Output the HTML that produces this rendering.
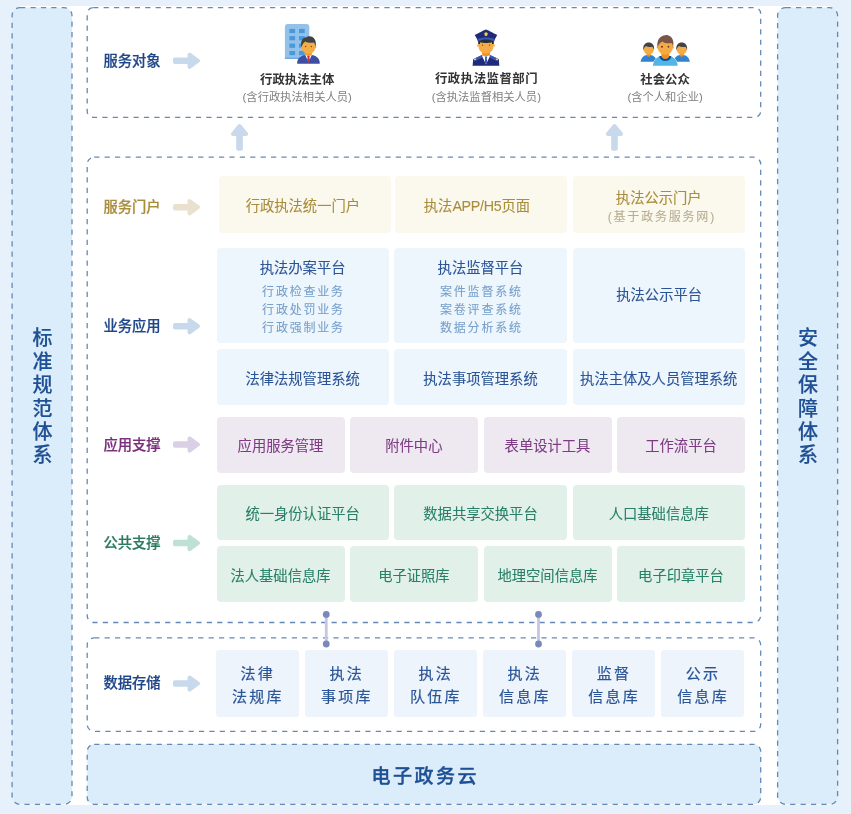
<!DOCTYPE html><html lang="zh-CN"><head><meta charset="utf-8"><title>行政执法平台总体架构</title><style>
*{margin:0;padding:0;box-sizing:border-box;}
html,body{width:851px;height:814px;overflow:hidden;}
body{background:#e7f1fb;font-family:"Liberation Sans", "Noto Sans CJK SC", sans-serif;position:relative;}
#stage{position:absolute;left:0;top:0;width:851px;height:814px;overflow:hidden;will-change:transform;}
#white{position:absolute;left:20px;top:6.3px;width:810px;height:798.3px;background:#fff;}
svg.ov{position:absolute;left:0;top:0;width:851px;height:814px;overflow:visible;}
.b{position:absolute;display:flex;flex-direction:column;align-items:center;justify-content:center;border-radius:4px;font-size:14.3px;line-height:20px;white-space:nowrap;text-align:center;}
.b>*{position:relative;top:1.9px;}
.b{-webkit-text-stroke:0.08px currentColor;}
.y{background:#fbf8ee;color:#a98d3c;}
.bl{background:#edf5fd;color:#2b5496;}
.p{background:#eee9f1;color:#7e3b83;}
.p>*{top:1.3px;}
.g{background:#e2f0ea;color:#288068;}
.d{background:#edf4fc;color:#2a5597;font-size:15px;line-height:23px;letter-spacing:2.2px;border-radius:3px;-webkit-text-stroke:0.2px currentColor;}
.d span{display:block;margin-right:-2.2px;left:-0.5px;top:1.4px;}
.d span+span{top:1.4px;}
.lab{position:absolute;left:103.4px;font-size:14.3px;line-height:20px;font-weight:500;-webkit-text-stroke:0.22px currentColor;white-space:nowrap;}
.sub{font-size:12px;line-height:18px;letter-spacing:1.8px;color:#76a0cb;margin-right:-1.8px;}
.bl .sub{top:4.2px;}
.t{position:absolute;white-space:nowrap;text-align:center;transform:translateX(-50%);}
.ti{font-size:12.4px;line-height:18px;font-weight:bold;color:#333;}
.st{font-size:11.3px;line-height:16px;color:#808080;}
.v{position:absolute;width:40px;text-align:center;font-size:20px;line-height:23.4px;font-weight:500;-webkit-text-stroke:0.15px currentColor;color:#1f4f94;}
.v span{display:block;}
</style></head><body><div id="stage">
<div id="white"></div>
<svg class="ov" viewBox="0 0 851 814"><rect x="12.1" y="7.55" width="59.9" height="796.8" rx="8" ry="8" stroke="#6589b4" stroke-width="1.3" stroke-dasharray="5.2 5.2" fill="#dbedfa"/><rect x="777.6" y="7.55" width="60" height="796.8" rx="8" ry="8" stroke="#6589b4" stroke-width="1.3" stroke-dasharray="5.2 5.2" fill="#dbedfa"/><rect x="87.2" y="7.55" width="673.5" height="109.75" rx="6" ry="6" stroke="#6589b4" stroke-width="1.3" stroke-dasharray="5.2 5.2" fill="none"/><rect x="87.2" y="157.2" width="673.5" height="465.3" rx="7" ry="7" stroke="#6589b4" stroke-width="1.3" stroke-dasharray="5.2 5.2" fill="none"/><rect x="87.2" y="637.9" width="673.5" height="93.5" rx="7" ry="7" stroke="#6589b4" stroke-width="1.3" stroke-dasharray="5.2 5.2" fill="none"/><rect x="87.2" y="744.3" width="673.5" height="60" rx="7" ry="7" stroke="#6589b4" stroke-width="1.3" stroke-dasharray="5.2 5.2" fill="#dbedfa"/><path d="M175,59.45 H189.5 V54.65 L198,60.75 L189.5,66.85 V62.05 H175 Z" fill="#c9d9ec" stroke="#c9d9ec" stroke-width="4" stroke-linejoin="round"/><path d="M175,205.89999999999998 H189.5 V201.1 L198,207.2 L189.5,213.29999999999998 V208.5 H175 Z" fill="#e9e1cd" stroke="#e9e1cd" stroke-width="4" stroke-linejoin="round"/><path d="M175,324.9 H189.5 V320.09999999999997 L198,326.2 L189.5,332.3 V327.5 H175 Z" fill="#c9d9ec" stroke="#c9d9ec" stroke-width="4" stroke-linejoin="round"/><path d="M175,443.2 H189.5 V438.4 L198,444.5 L189.5,450.6 V445.8 H175 Z" fill="#d9d0e6" stroke="#d9d0e6" stroke-width="4" stroke-linejoin="round"/><path d="M175,541.7 H189.5 V536.9 L198,543 L189.5,549.1 V544.3 H175 Z" fill="#bfe0d4" stroke="#bfe0d4" stroke-width="4" stroke-linejoin="round"/><path d="M175,682.2 H189.5 V677.4 L198,683.5 L189.5,689.6 V684.8 H175 Z" fill="#c9d9ec" stroke="#c9d9ec" stroke-width="4" stroke-linejoin="round"/><path d="M239.55,126 L246.15,134 H240.9 V148.8 H238.20000000000002 V134 H232.95000000000002 Z" fill="#c9d9ec" stroke="#c9d9ec" stroke-width="4" stroke-linejoin="round"/><path d="M614.5,126 L621.1,134 H615.85 V148.8 H613.15 V134 H607.9 Z" fill="#c9d9ec" stroke="#c9d9ec" stroke-width="4" stroke-linejoin="round"/><line x1="326.25" y1="614.4" x2="326.25" y2="644" stroke="#c5c6e2" stroke-width="2.8"/><circle cx="326.25" cy="614.4" r="3.4" fill="#7b88bb"/><circle cx="326.25" cy="644" r="3.4" fill="#7b88bb"/><line x1="538.5" y1="614.4" x2="538.5" y2="644" stroke="#c5c6e2" stroke-width="2.8"/><circle cx="538.5" cy="614.4" r="3.4" fill="#7b88bb"/><circle cx="538.5" cy="644" r="3.4" fill="#7b88bb"/></svg>
<div class="lab" style="top:50.5px;color:#1f4688">服务对象</div>
<div class="lab" style="top:196.6px;color:#a98d3c">服务门户</div>
<div class="lab" style="top:315.75px;color:#1f4688">业务应用</div>
<div class="lab" style="top:435px;color:#7a2e7c">应用支撑</div>
<div class="lab" style="top:532.5px;color:#2a7a5c">公共支撑</div>
<div class="lab" style="top:673px;color:#1f4688">数据存储</div>
<div class="b y" style="left:219.25px;top:175.75px;width:172.0px;height:56.75px;padding-left:0px;padding-right:4.8px;padding-top:0.5px;padding-bottom:0px"><span>行政执法统一门户</span></div>
<div class="b y" style="left:395px;top:175.75px;width:172px;height:56.75px;padding-left:0px;padding-right:8.2px;padding-top:0.5px;padding-bottom:0px"><span>执法<span style="letter-spacing:-0.3px">APP/H5</span>页面</span></div>
<div class="b y" style="left:572.5px;top:175.75px;width:172.5px;height:56.75px;padding-left:0px;padding-right:0px;padding-top:1.2px;padding-bottom:0px"><div style="top:2.5px">执法公示门户</div><div class="sub" style="color:#b8ae90;line-height:19px;left:2.2px;top:3px">(基于政务服务网)</div></div>
<div class="b bl" style="left:216.5px;top:247.5px;width:172.25px;height:95.0px"><div style="line-height:22px;top:-0.4px">执法办案平台</div><div class="sub">行政检查业务</div><div class="sub">行政处罚业务</div><div class="sub">行政强制业务</div></div>
<div class="b bl" style="left:394.25px;top:247.5px;width:172.5px;height:95.0px"><div style="line-height:22px;top:-0.4px">执法监督平台</div><div class="sub">案件监督系统</div><div class="sub">案卷评查系统</div><div class="sub">数据分析系统</div></div>
<div class="b bl" style="left:572.5px;top:247.5px;width:172.5px;height:95.0px;padding-left:0.8px;padding-right:0px;padding-top:0px;padding-bottom:3.8px"><span>执法公示平台</span></div>
<div class="b bl" style="left:216.5px;top:349.25px;width:172.25px;height:55.25px"><span>法律法规管理系统</span></div>
<div class="b bl" style="left:394.25px;top:349.25px;width:172.5px;height:55.25px"><span>执法事项管理系统</span></div>
<div class="b bl" style="left:572.5px;top:349.25px;width:172.5px;height:55.25px"><span>执法主体及人员管理系统</span></div>
<div class="b p" style="left:216.5px;top:417px;width:128.0px;height:55.5px"><span>应用服务管理</span></div>
<div class="b p" style="left:350px;top:417px;width:127.75px;height:55.5px"><span>附件中心</span></div>
<div class="b p" style="left:483.5px;top:417px;width:128.0px;height:55.5px"><span>表单设计工具</span></div>
<div class="b p" style="left:617px;top:417px;width:128px;height:55.5px"><span>工作流平台</span></div>
<div class="b g" style="left:216.5px;top:484.6px;width:172.25px;height:55.5px"><span>统一身份认证平台</span></div>
<div class="b g" style="left:394.25px;top:484.6px;width:172.5px;height:55.5px"><span>数据共享交换平台</span></div>
<div class="b g" style="left:572.5px;top:484.6px;width:172.5px;height:55.5px"><span>人口基础信息库</span></div>
<div class="b g" style="left:216.5px;top:546.2px;width:128.0px;height:55.6px"><span>法人基础信息库</span></div>
<div class="b g" style="left:350px;top:546.2px;width:127.75px;height:55.6px"><span>电子证照库</span></div>
<div class="b g" style="left:483.5px;top:546.2px;width:128.0px;height:55.6px"><span>地理空间信息库</span></div>
<div class="b g" style="left:617px;top:546.2px;width:128px;height:55.6px"><span>电子印章平台</span></div>
<div class="b d" style="left:215.5px;top:649.5px;width:83.4px;height:67.9px"><span>法律</span><span>法规库</span></div>
<div class="b d" style="left:304.5px;top:649.5px;width:83.4px;height:67.9px"><span>执法</span><span>事项库</span></div>
<div class="b d" style="left:393.5px;top:649.5px;width:83.4px;height:67.9px"><span>执法</span><span>队伍库</span></div>
<div class="b d" style="left:482.5px;top:649.5px;width:83.4px;height:67.9px"><span>执法</span><span>信息库</span></div>
<div class="b d" style="left:571.75px;top:649.5px;width:83.4px;height:67.9px"><span>监督</span><span>信息库</span></div>
<div class="b d" style="left:660.75px;top:649.5px;width:83.4px;height:67.9px"><span>公示</span><span>信息库</span></div>
<div class="t" style="left:424.5px;top:763.5px;font-size:19px;line-height:26px;font-weight:500;-webkit-text-stroke:0.35px currentColor;letter-spacing:2.5px;margin-left:0.7px;color:#1f4f94">电子政务云</div>
<div class="t ti" style="left:297.2px;top:71px">行政执法主体</div>
<div class="t st" style="left:297.2px;top:88.5px">(含行政执法相关人员)</div>
<div class="t ti" style="left:486.3px;top:69.7px;letter-spacing:0.5px;margin-left:0.25px">行政执法监督部门</div>
<div class="t st" style="left:486.3px;top:88.5px">(含执法监督相关人员)</div>
<div class="t ti" style="left:665.1px;top:70.6px">社会公众</div>
<div class="t st" style="left:665.1px;top:88.5px">(含个人和企业)</div>
<div class="v" style="left:22.4px;top:327.3px"><span>标</span><span>准</span><span>规</span><span>范</span><span>体</span><span>系</span></div>
<div class="v" style="left:788px;top:327.3px"><span>安</span><span>全</span><span>保</span><span>障</span><span>体</span><span>系</span></div>
<svg class="ov" viewBox="0 0 851 814"><g><path d="M284.9,59 V27 a3,3 0 0 1 3,-3 H306.3 a3,3 0 0 1 3,3 V59 Z" fill="#92c1ea"/><rect x="284.9" y="57.6" width="24.4" height="1.4" fill="#6fabe2"/><rect x="289.4" y="28.9" width="5.7" height="4.2" fill="#4a98d9"/><rect x="299.0" y="28.9" width="5.7" height="4.2" fill="#4a98d9"/><rect x="289.4" y="36.1" width="5.7" height="4.2" fill="#4a98d9"/><rect x="299.0" y="36.1" width="5.7" height="4.2" fill="#4a98d9"/><rect x="289.4" y="43.6" width="5.7" height="4.2" fill="#4a98d9"/><rect x="299.0" y="43.6" width="5.7" height="4.2" fill="#4a98d9"/><rect x="289.4" y="51.0" width="5.7" height="4.2" fill="#4a98d9"/><rect x="299.0" y="51.0" width="5.7" height="4.2" fill="#4a98d9"/><path d="M297.2,63.8 V62.5 C297.2,58.5 301,55.2 305.4,54.9 H311.6 C316,55.2 319.7,58.5 319.7,62.500 V63.800 Z" fill="#3c4fa5"/><path d="M305.3,52 H311.8 V55.4 L308.5,57 L305.3,55.4 Z" fill="#f0952a"/><path d="M305.3,55 L308.5,56.2 L311.7,55 L308.5,62.6 Z" fill="#ffffff"/><path d="M307.1,55.9 H309.9 L309.4,57.6 L310.1,60.6 L308.5,62.4 L306.9,60.6 L307.6,57.6 Z" fill="#d32f2f"/><ellipse cx="308.5" cy="46.9" rx="6.9" ry="7.2" fill="#f4ac45"/><circle cx="301.8" cy="47.3" r="1.1" fill="#f4ac45"/><circle cx="315.2" cy="47.3" r="1.1" fill="#f4ac45"/><path d="M301.4,47.4 C300,40.5 303.3,36.9 306.5,37.200 C307.2,36.2 308.6,35.9 309.6,36.3 C313.800,36.600 317,40.300 315.600,47.400 C315.1,44.4 314.5,43.2 313.7,42.5 C311,43.2 307.6,42.8 305.4,41.4 C303.7,42.6 302,44.4 301.4,47.400 Z" fill="#3f4347"/><circle cx="305.6" cy="46.5" r="0.65" fill="#6b3f1d"/><circle cx="311.3" cy="46.5" r="0.65" fill="#6b3f1d"/></g><g><path d="M472.6,65.7 L473.2,59.2 L481.6,55.2 H490.4 L498.8,59.2 L499.300,65.700 Z" fill="#1f2a78"/><path d="M473.4,59 L481.4,55.3 L482.4,57.6 L474.4,61.6 Z" fill="#3d56b5"/><path d="M498.6,59 L490.6,55.3 L489.6,57.6 L497.6,61.6 Z" fill="#3d56b5"/><rect x="473.9" y="58.6" width="2.2" height="1.5" rx="0.5" fill="#f5d33f"/><rect x="495.9" y="58.6" width="2.2" height="1.5" rx="0.5" fill="#f5d33f"/><path d="M482.1,51 H490 V55.6 L486,57 L482.1,55.6 Z" fill="#f5921f"/><path d="M481.8,55.4 L486,56.2 L490.2,55.4 L486,64.6 Z" fill="#ffffff"/><path d="M484.7,56.6 H487.3 L486.8,58.2 L487.3,62.6 L486,64.6 L484.7,62.6 L485.2,58.2 Z" fill="#3d56b5"/><path d="M478.6,42 H493.4 V46.5 C493.4,50.6 490.2,53.5 486,53.5 C481.8,53.5 478.6,50.6 478.6,46.500 Z" fill="#f5ab46"/><circle cx="478.2" cy="45.4" r="1.2" fill="#f5ab46"/><circle cx="493.8" cy="45.400" r="1.200" fill="#f5ab46"/><circle cx="482.6" cy="45.1" r="0.7" fill="#6b3f1d"/><circle cx="489.5" cy="45.1" r="0.7" fill="#6b3f1d"/><path d="M478.2,40.5 H480 V44 H478.2 Z M492,40.5 H493.800 V44 H492 Z" fill="#22303a"/><path d="M486,29.500 C487.400,29.500 493.500,33.400 497.300,35 C496.300,36.700 495,38.600 494.500,40.600 H477.500 C477,38.600 475.700,36.700 474.700,35 C478.500,33.400 484.600,29.500 486,29.500 Z" fill="#1f2a78"/><path d="M477.6,38.9 C482.5,36.9 489.5,36.9 494.4,38.9 L494.4,41.2 C489.5,39.6 482.5,39.6 477.600,41.200 Z" fill="#3d56b5"/><path d="M478.2,41 C482.5,38.9 489.5,38.9 493.8,41 C493,43.6 479,43.6 478.200,41 Z" fill="#22303a"/><path d="M486,32.200 L487.700,33 L487.400,35.200 L486,36.200 L484.600,35.200 L484.300,33 Z" fill="#f5d33f"/></g><g><path d="M640.6,61.8 C641.1,57.500 644.2,55 646.9,54.900 H650.5 C653.2,55 656.3,57.500 656.8,61.800 Z" fill="#2f83d0"/><path d="M646.6,53 H650.8 V55 C650.8,57.200 646.6,57.200 646.6,55 Z" fill="#f0911e"/><ellipse cx="648.7" cy="49" rx="5.2" ry="5.6" fill="#f4ab45"/><path d="M643.4,50.4 C642.5,45 645.5,42.500 648.7,42.500 C651.9,42.500 654.9,45 654.0,50.400 C653.6,48.400 653.0,47.400 652.2,46.800 C650.2,47.200 647.5,47 646.1,46 C644.8,46.800 643.9,48 643.4,50.400 Z" fill="#3f4347"/><path d="M673.6,61.8 C674.1,57.500 677.2,55 679.9,54.900 H683.5 C686.2,55 689.3,57.500 689.8,61.800 Z" fill="#2f83d0"/><path d="M679.6,53 H683.8 V55 C683.8,57.200 679.6,57.200 679.6,55 Z" fill="#f0911e"/><ellipse cx="681.7" cy="49" rx="5.2" ry="5.6" fill="#f4ab45"/><path d="M676.4,50.4 C675.5,45 678.5,42.500 681.7,42.500 C684.9,42.500 687.9,45 687.0,50.400 C686.6,48.400 686.0,47.400 685.2,46.800 C683.2,47.200 680.5,47 679.1,46 C677.8,46.800 676.9,48 676.4,50.400 Z" fill="#3f4347"/><path d="M652.9,65.8 C653.4,60 657.5,56.3 661.5,56 H669.1 C673.1,56.3 677.2,60 677.700,65.800 Z" fill="#52b5e8" stroke="#ffffff" stroke-width="1" paint-order="stroke"/><path d="M659.4,56 H671.2 C671.2,62.6 659.4,62.600 659.400,56 Z" fill="#0d4e9c"/><path d="M661.3,52.5 H669.3 V55.2 C669.3,60.2 661.3,60.200 661.300,55.200 Z" fill="#f0911e"/><ellipse cx="665.3" cy="46.6" rx="7.7" ry="8.2" fill="#f4ab45"/><circle cx="657.7" cy="47.6" r="1.1" fill="#f4ab45"/><circle cx="672.9" cy="47.6" r="1.1" fill="#f4ab45"/><path d="M657.6,47.6 C656.2,39.6 660.6,35.6 665.3,35.200 C666.4,34.9 667.6,35 668.4,35.5 C671.800,36.400 674.600,40.400 673,47.600 C672.800,45 672.200,43.800 671.400,43 C668.200,43.800 664.400,43.200 662.200,41.400 C660,42.800 658.100,44.600 657.600,47.600 Z" fill="#7b5548"/><circle cx="662" cy="46.7" r="0.95" fill="#5d3416"/><circle cx="668.5" cy="46.7" r="0.85" fill="#5d3416"/></g></svg>
</div></body></html>
